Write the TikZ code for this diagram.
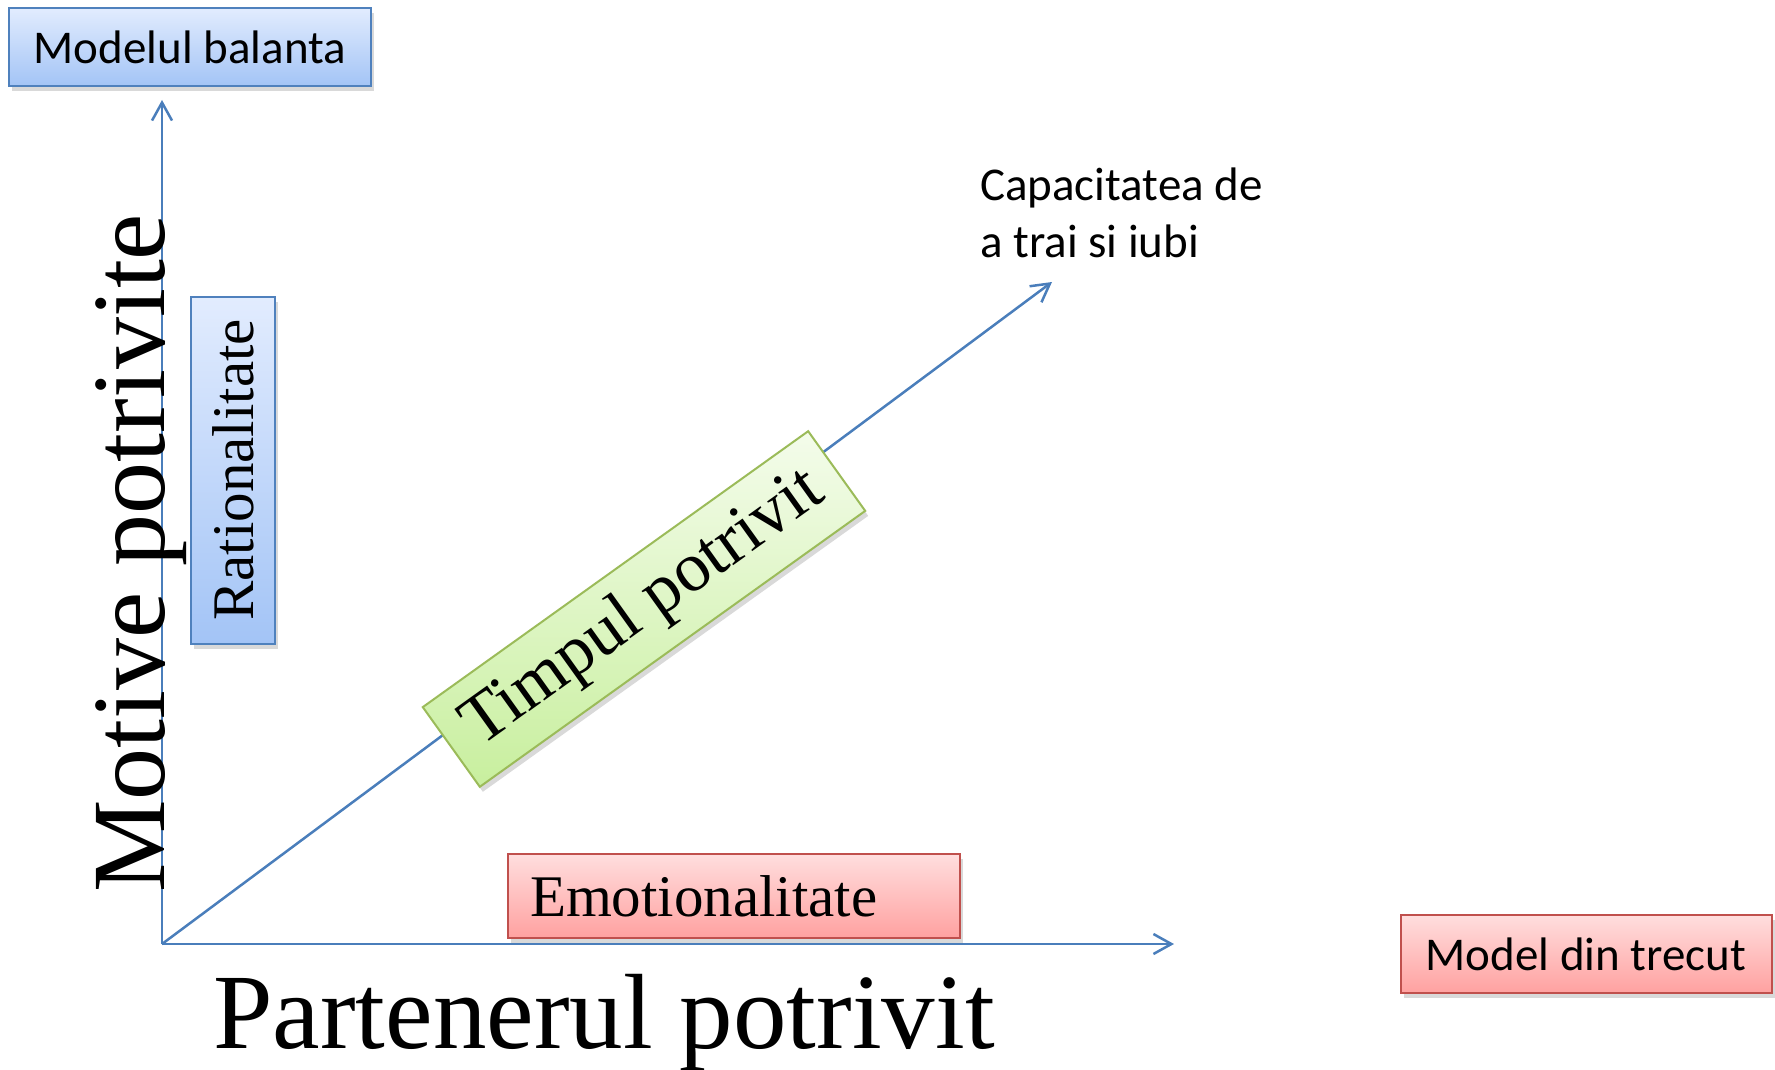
\documentclass[tikz,border=0pt]{standalone}
\usepackage{fontspec}
\setmainfont{Liberation Serif}
\newfontfamily\calib{Carlito}
\usetikzlibrary{arrows.meta,shadows,positioning}
\definecolor{ab}{RGB}{74,126,187}
\definecolor{bl}{RGB}{79,129,189}
\definecolor{bt}{RGB}{226,236,254}
\definecolor{bb}{RGB}{163,196,246}
\definecolor{rl}{RGB}{192,80,77}
\definecolor{rt}{RGB}{255,222,222}
\definecolor{rb}{RGB}{255,161,160}
\definecolor{gl}{RGB}{155,187,89}
\definecolor{gt}{RGB}{244,252,235}
\definecolor{gb}{RGB}{200,239,158}

\begin{document}
\begin{tikzpicture}[x=1pt, y=1pt,
  box/.style={line width=2pt, inner sep=0pt, align=center, drop shadow={shadow xshift=3pt, shadow yshift=-5pt, opacity=0.3}},
  bluebox/.style={box, draw=bl, top color=bt, bottom color=bb},
  redbox/.style={box, draw=rl, top color=rt, bottom color=rb},
  greenbox/.style={box, draw=gl, top color=gt, bottom color=gb},
  axis/.style={-{Straight Barb[length=18pt, width=20pt]}, line width=2.5pt, color=ab},
  calibtext/.style={font=\calib\fontsize{47}{57}\selectfont},
  sertext/.style={font=\fontsize{#1}{#1}\selectfont}
]
\useasboundingbox (0,0) rectangle (1775,-1070);
% axes
\coordinate (O) at (162,-944);
\coordinate (ytip) at (162,-100);
\coordinate (xtip) at (1174,-944);
\coordinate (dtip) at (1052,-282);
\draw[axis] (O) -- (ytip);
\draw[axis] (O) -- (xtip);
\draw[axis] (O) -- (dtip);
% axis titles
\node[sertext=104, rotate=90, anchor=base west, inner sep=0pt] (motive) at (164,-893) {Motive potrivite};
\node[sertext=107, anchor=base west, inner sep=0pt] (partener) at (213,-1048) {Partenerul potrivit};
\node[calibtext, anchor=base west, align=left, inner sep=0pt] (capac) at (980,-257) {Capacitatea de\\a trai si iubi};
% boxes
\node[bluebox, calibtext, minimum width=362pt, minimum height=78pt] (balanta) at (190,-47) {Modelul balanta};
\node[redbox, calibtext, minimum width=371pt, minimum height=78pt] (trecut) at (1586,-954) {Model din trecut};
\node[bluebox, sertext=59, rotate=90, minimum width=347pt, minimum height=84pt] (ratio) at (233,-470) {Rationalitate};
\node[redbox, sertext=59, minimum width=452pt, minimum height=84pt, text width=408pt, inner xsep=22pt, align=left] (emo) at (734,-896) {Emotionalitate};
\node[greenbox, sertext=70, rotate=35.6, minimum width=474pt, minimum height=98pt] (timp) at (644,-609) {Timpul potrivit};
\end{tikzpicture}
\end{document}
